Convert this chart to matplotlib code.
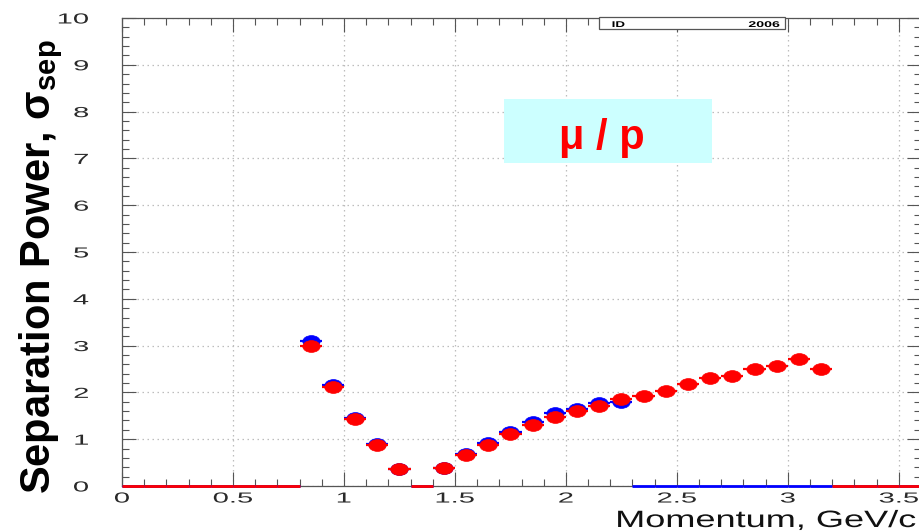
import numpy as np
import matplotlib
matplotlib.use('Agg')
import matplotlib.pyplot as plt
from matplotlib.patches import Rectangle
from matplotlib.path import Path
from matplotlib.markers import MarkerStyle
from matplotlib.patheffects import AbstractPathEffect
from matplotlib.transforms import Affine2D

plt.rcParams['font.family'] = ['Liberation Sans', 'DejaVu Sans']
plt.rcParams['mathtext.fontset'] = 'custom'
plt.rcParams['mathtext.rm'] = 'Liberation Sans'
plt.rcParams['mathtext.bf'] = 'Liberation Sans:bold'

# momentum bin centres [GeV/c], bin width 0.1
p_bins = [0.05, 0.15, 0.25, 0.35, 0.45, 0.55, 0.65, 0.75,
          0.85, 0.95, 1.05, 1.15, 1.25, 1.35, 1.45, 1.55,
          1.65, 1.75, 1.85, 1.95, 2.05, 2.15, 2.25, 2.35,
          2.45, 2.55, 2.65, 2.75, 2.85, 2.95, 3.05, 3.15,
          3.25, 3.35, 3.45, 3.55]
bin_half = 0.05

# separation power mu/p, two samples (empty bins are 0)
sep_blue = [0, 0, 0, 0, 0, 0, 0, 0,
            3.10, 2.16, 1.45, 0.89, 0.37, 0, 0.39, 0.69,
            0.91, 1.15, 1.37, 1.57, 1.65, 1.77, 1.80, 0,
            0, 0, 0, 0, 0, 0, 0, 0,
            0, 0, 0, 0]
sep_red = [0, 0, 0, 0, 0, 0, 0, 0,
           2.99, 2.12, 1.43, 0.88, 0.36, 0, 0.38, 0.66,
           0.87, 1.11, 1.30, 1.48, 1.60, 1.71, 1.85, 1.93,
           2.04, 2.18, 2.31, 2.36, 2.50, 2.57, 2.72, 2.49,
           0, 0, 0, 0]

x_ticks = [0, 0.5, 1, 1.5, 2, 2.5, 3, 3.5]
x_ticklabels = ['0', '0.5', '1', '1.5', '2', '2.5', '3', '3.5']
y_ticks = [0, 1, 2, 3, 4, 5, 6, 7, 8, 9, 10]
y_ticklabels = ['0', '1', '2', '3', '4', '5', '6', '7', '8', '9', '10']


class Stretch(AbstractPathEffect):
    '''draws the glyph outline widened along the text direction'''
    def __init__(self, sx=1.0, sy=1.0, anchor=0.5):
        super().__init__()
        self.sx = sx
        self.sy = sy
        self.anchor = anchor

    def draw_path(self, renderer, gc, tpath, affine, rgbFace=None):
        ext = tpath.get_extents()
        x0 = ext.x0 + self.anchor * ext.width
        tr = Affine2D().translate(-x0, 0).scale(self.sx, self.sy).translate(x0, 0)
        renderer.draw_path(gc, tpath, tr + affine, rgbFace)


W, H = 920, 531
fig = plt.figure(figsize=(W / 100, H / 100), dpi=100)
ax = fig.add_axes([122 / W, 45 / H, (921 - 122) / W, (486 - 18) / H])

# flat ellipse marker
ellipse = Path.unit_circle().transformed(Affine2D().scale(1.0, 0.68))
mk = MarkerStyle(ellipse)


def draw_series(x, y, color, z):
    x = np.asarray(x)
    y = np.asarray(y, dtype=float)
    filled = y > 0
    # empty bins: only the horizontal bar on the axis
    ax.hlines(np.zeros((~filled).sum()), x[~filled] - bin_half, x[~filled] + bin_half,
              colors=color, lw=2.0, zorder=z, clip_on=False)
    ax.errorbar(x[filled], y[filled], xerr=bin_half, fmt='none',
                ecolor=color, elinewidth=1.6, capsize=0, zorder=z)
    ax.plot(x[filled], y[filled], ls='none', marker=mk, ms=12.5,
            mfc=color, mec=color, mew=0.5, zorder=z + 0.5)


draw_series(p_bins, sep_blue, '#0000ff', 4)
draw_series(p_bins, sep_red, '#ff0000', 5)

ax.set_xlim(0, 3.6)
ax.set_ylim(0, 10)
ax.set_xticks(x_ticks, x_ticklabels)
ax.set_yticks(y_ticks, y_ticklabels)
ax.set_xticks(np.round(np.arange(0, 3.61, 0.1), 2), minor=True)
ax.set_yticks(np.round(np.arange(0, 10.01, 0.2), 2), minor=True)

ax.grid(True, which='major', color='#bdbdbd', lw=0.9, ls=(0, (1.2, 2.8)))
ax.tick_params(which='both', direction='in', top=True, right=True,
               color='#555555', width=0.8)
ax.tick_params(which='major', length=10)
ax.tick_params(which='minor', length=5)
ax.tick_params(axis='x', which='major', pad=4, labelsize=10.5, labelcolor='#2a2a2a')
ax.tick_params(axis='y', which='major', pad=24, labelsize=10.5, labelcolor='#2a2a2a')
for sp in ax.spines.values():
    sp.set_color('#555555')
    sp.set_linewidth(0.9)

for lbl in ax.get_xticklabels():
    lbl.set_path_effects([Stretch(sx=2.0, anchor=0.5)])
for lbl in ax.get_yticklabels():
    lbl.set_path_effects([Stretch(sx=2.0, anchor=1.0)])

# axis titles
fig.text(41 / W, 1 - 267 / H, 'Separation Power, σ$_{\\mathbf{sep}}$',
         rotation=90, ha='center', va='center', fontsize=30, fontweight='bold')
xl = fig.text(916 / W, 4 / H, 'Momentum, GeV/c', ha='right', va='baseline',
              fontsize=17, color='#111111')
xl.set_path_effects([Stretch(sx=1.53, anchor=1.0)])

# stats box header
fig.patches.append(Rectangle((599 / W, 1 - 29 / H), 186 / W, 12 / H,
                             transform=fig.transFigure, fc='white',
                             ec='#555555', lw=0.9, zorder=10))
t1 = fig.text(612 / W, 1 - 27 / H, 'ID', ha='left', va='baseline',
              fontsize=6, fontweight='bold', zorder=11)
t1.set_path_effects([Stretch(sx=1.6, anchor=0.0)])
t2 = fig.text(780 / W, 1 - 27 / H, '2006', ha='right', va='baseline',
              fontsize=6, fontweight='bold', zorder=11)
t2.set_path_effects([Stretch(sx=1.7, anchor=1.0)])

# particle pair label
fig.patches.append(Rectangle((504 / W, 1 - 163 / H), 208 / W, 64 / H,
                             transform=fig.transFigure, fc='#ccffff',
                             ec='none', zorder=10))
fig.text(602 / W, 1 - 138 / H, 'μ / p', ha='center', va='center',
         fontsize=30, fontweight='bold', color='#ff0000', zorder=11)

fig.savefig('out.png', dpi=100)
